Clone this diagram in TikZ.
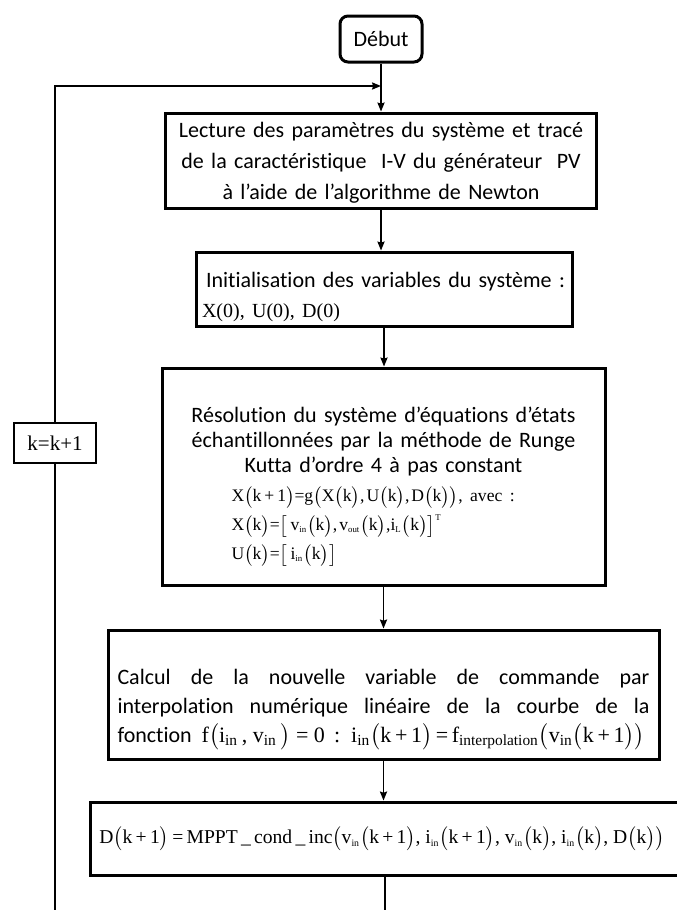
\documentclass[tikz,border=0pt]{standalone}
\usepackage{amsmath}
\usepackage{fontspec}
\setmainfont[Ligatures=NoCommon]{Carlito}
\setmathrm{Liberation Serif}
\newfontfamily\tnr{Liberation Serif}
\usepackage{tikz}
\usetikzlibrary{arrows.meta}
% small subscripts set in the serif font
\newcommand{\ssub}[1]{$_{\scriptscriptstyle\mathrm{#1}}$}
\newcommand{\msub}[1]{$_{\scriptstyle\mathrm{#1}}$}
\newcommand{\bop}{$\bigl($}
\newcommand{\bcl}{$\bigr)$}

\begin{document}
\begin{tikzpicture}[
    x=0.5pt, y=-0.5pt,
    >={Stealth[length=4.5pt, width=3.6pt, inset=0.6pt]},
    box/.style={draw, line width=1.5pt, inner sep=0pt},
    flow line/.style={->, line width=0.7pt},
    plain line/.style={line width=0.7pt},
    every node/.style={color=black}
    ]

    \useasboundingbox (0,0) rectangle (676,910);

    % start and loop counter
    \node[box, rounded corners=4pt, minimum width=41pt, minimum height=23pt,
          font=\fontsize{11}{13}\selectfont] (debut) at (381,39) {Début};
    \node[box, line width=1pt, minimum width=41pt, minimum height=20pt,
          font=\tnr\fontsize{10.5}{12}\selectfont] (kbox) at (55,443) {k=k+1};

    % steps of the algorithm
    \node[box, minimum width=215.5pt, minimum height=47.5pt, text width=212pt,
          font=\fontsize{11}{15.5}\selectfont] (lecture) at (381,160.5)
        {\centering\rule{0pt}{10pt}Lecture des paramètres du système et tracé\\
         de la caractéristique \ I-V du générateur \ PV\\
         à l’aide de l’algorithme de Newton\par};
    \node[box, minimum width=188pt, minimum height=37pt, text width=182pt,
          font=\fontsize{11}{15}\selectfont] (init) at (384,289)
        {\raggedright\rule{0pt}{16pt}\hspace*{2pt}Initialisation des variables du système :\\
         {\tnr\fontsize{10}{12}\selectfont X(0), U(0), D(0)}\par};
    \node[box, minimum width=221.5pt, minimum height=108.5pt, text width=212pt,
          font=\fontsize{11}{12.5}\selectfont] (resol) at (383.5,476.5)
        {\centering\rule{0pt}{18pt}Résolution du système d’équations d’états\\
         échantillonnées par la méthode de Runge\\
         Kutta d’ordre 4 à pas constant\par
         \tnr\fontsize{8.8}{12.5}\selectfont\raggedright\leftskip=30pt\parskip=2pt
         X\bop k\,+\,1\bcl=g\bop X\bop k\bcl,\kern1pt U\bop k\bcl,\kern1pt D\bop k\bcl\bcl, avec :\par
         X\bop k\bcl=$\bigl[$\,v\ssub{in}\bop k\bcl,\kern1pt v\ssub{out}\bop k\bcl,i\ssub{L}\bop k\bcl$\bigr]^{\scriptscriptstyle\mathrm{T}}$\par
         U\bop k\bcl=$\bigl[$\,i\ssub{in}\bop k\bcl$\bigr]$\par};
    \node[box, align=justify, minimum width=275.5pt, minimum height=64.5pt, text width=266pt,
          font=\fontsize{11}{14.5}\selectfont] (calcul) at (383.5,694.5)
        {\rule{0pt}{23pt}Calcul de la nouvelle variable de commande par\linebreak
         interpolation numérique linéaire de la courbe de la\linebreak
         fonction \ {\tnr f\bop i\msub{in}\,, v\msub{in}\,\bcl\ = 0 \,:\,
         i\msub{in}\bop k\,+\,1\bcl\,=\,f\msub{interpolation}\bop v\msub{in}\bop k\,+\,1\bcl\bcl}};
    \node[box, minimum width=295pt, minimum height=36.5pt,
          font=\tnr\fontsize{9.8}{12}\selectfont] (mppt) at (385,838.5)
        {\hspace*{-3pt}D\bop k\,+\,1\bcl\,=\,MPPT\,\_\,cond\,\_\,inc\bop v\ssub{in}\bop k\,+\,1\bcl, i\ssub{in}\bop k\,+\,1\bcl, v\ssub{in}\bop k\bcl, i\ssub{in}\bop k\bcl, D\bop k\bcl\bcl};

    % free ends at the bottom edge
    \coordinate (join) at (381,86);
    \coordinate (lend) at (55,915);

    % connectors
    \draw[flow line] (debut.south) -- (debut.south |- lecture.north);
    \draw[flow line] (lecture.south) -- (lecture.south |- init.north);
    \draw[flow line] (init.south) -- (init.south |- resol.north);
    \draw[flow line] (resol.south) -- (resol.south |- calcul.north);
    \draw[flow line] (calcul.south) -- (calcul.south |- mppt.north);
    \draw[plain line] (mppt.south) -- (mppt.south |- lend);
    \draw[plain line] (lend) -- (kbox.south);
    \draw[flow line] (kbox.north) |- (debut.south |- join);
\end{tikzpicture}
\end{document}
